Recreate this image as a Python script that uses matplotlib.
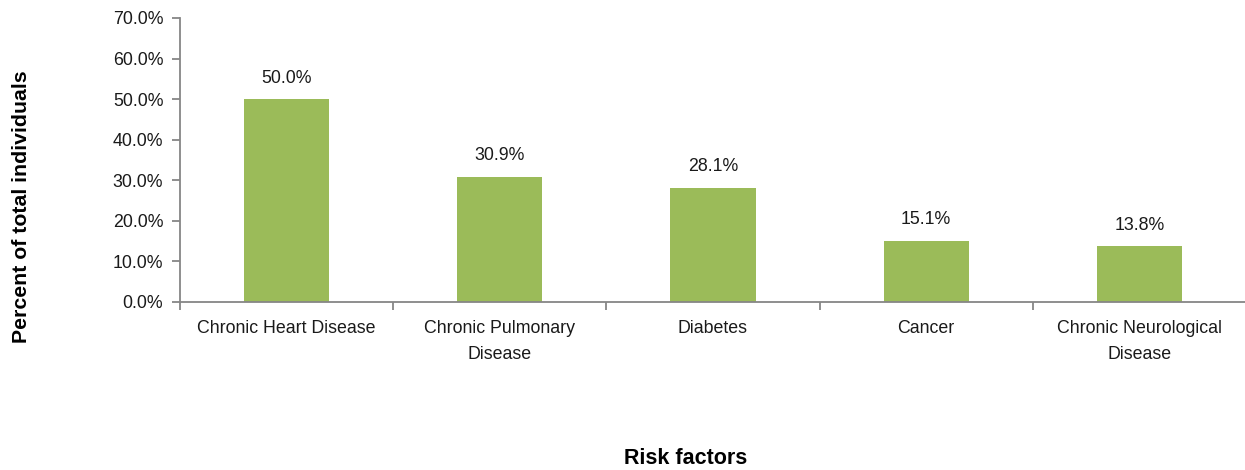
import matplotlib.pyplot as plt
import matplotlib.font_manager as fm
from matplotlib.ticker import FuncFormatter, FixedLocator
import numpy as np

# risk factor shares
categories = ["Chronic Heart Disease", "Chronic Pulmonary\nDisease", "Diabetes",
              "Cancer", "Chronic Neurological\nDisease"]
percent = [50.0, 30.9, 28.1, 15.1, 13.8]

names = {f.name for f in fm.fontManager.ttflist}
family = "Liberation Sans Narrow" if "Liberation Sans Narrow" in names else "Liberation Sans"
plt.rcParams["font.family"] = [family, "DejaVu Sans"]

bar_color = "#9BBB59"
axis_grey = "#868686"

fig = plt.figure(figsize=(12.45, 4.70), dpi=100)
ax = fig.add_axes([180 / 1245, 1 - 302 / 470, 1066 / 1245, 284 / 470])

x = np.arange(len(categories))
ax.bar(x, percent, width=0.4, color=bar_color, zorder=2)
for xi, v in zip(x, percent):
    ax.annotate(f"{v:.1f}%", (xi, v), xytext=(0, 9), textcoords="offset points",
                ha="center", va="bottom", fontsize=12.8, color="#1a1a1a")

ax.set_xlim(-0.5, len(categories) - 0.5)
ax.set_ylim(0, 70)
ax.set_yticks(np.arange(0, 71, 10))
ax.yaxis.set_major_formatter(FuncFormatter(lambda v, _: f"{v:.1f}%"))

# category labels centred, tick marks between categories
ax.set_xticks(x)
ax.set_xticklabels(categories, fontsize=12.8, color="#1a1a1a", linespacing=1.7)
ax.tick_params(axis="x", which="major", length=0, pad=13)
ax.xaxis.set_minor_locator(FixedLocator(np.arange(-0.5, len(categories), 1.0)))
ax.tick_params(axis="x", which="minor", length=6, width=1.3, color=axis_grey)
ax.tick_params(axis="y", length=6, width=1.3, color=axis_grey, labelsize=12.8,
               labelcolor="#1a1a1a", pad=6)

for side in ("top", "right"):
    ax.spines[side].set_visible(False)
for side in ("left", "bottom"):
    ax.spines[side].set_color(axis_grey)
    ax.spines[side].set_linewidth(1.3)

fig.text(22 / 1245, 1 - 207 / 470, "Percent of total individuals", rotation=90,
         ha="center", va="center", fontsize=15.3, fontweight="bold")
fig.text(686 / 1245, 1 - 458 / 470, "Risk factors", ha="center", va="center",
         fontsize=15.5, fontweight="bold")

fig.savefig("out.png", dpi=100)
